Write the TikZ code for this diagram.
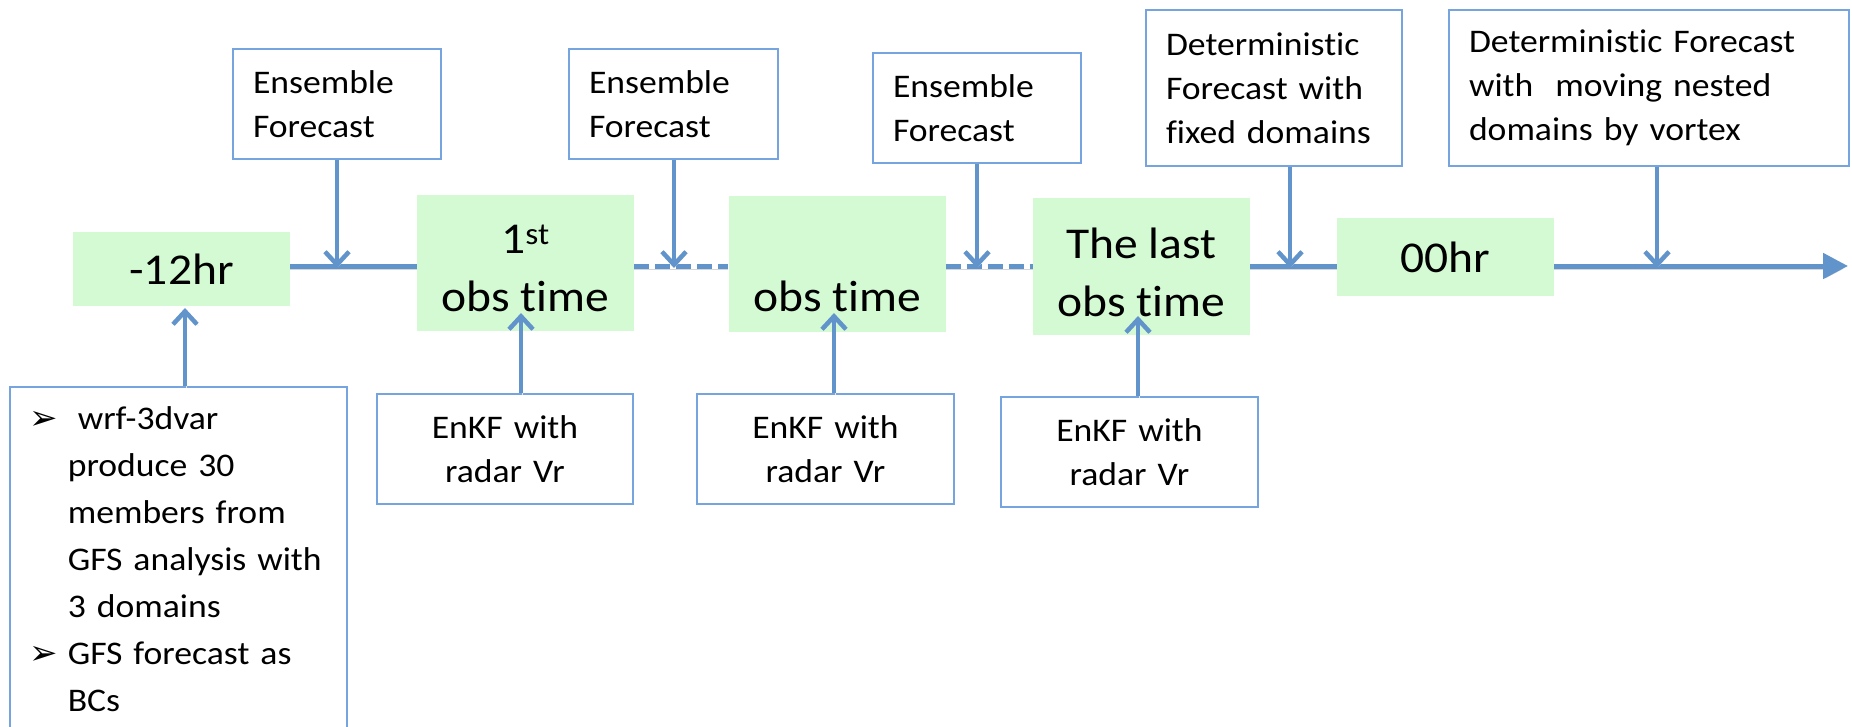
\documentclass[tikz,border=0pt]{standalone}
\usepackage{fontspec}
\setmainfont{Carlito}[Ligatures=NoCommon, FakeStretch=1.08]
\newfontfamily\dingfont{DejaVu Sans}
\usetikzlibrary{arrows.meta}
\definecolor{lineblue}{RGB}{98,148,204}
\definecolor{boxblue}{RGB}{118,164,222}
\definecolor{stepgreen}{RGB}{212,250,212}
\def\bul{\leavevmode\llap{{\dingfont\bfseries\fontsize{34}{34}\selectfont ➢}\hspace{10pt}}}
\tikzset{
  timebox/.style={fill=stepgreen, minimum width=217pt, align=center,
    font=\fontsize{44}{58}\selectfont},
  notebox/.style={draw=boxblue, line width=1.6pt, inner xsep=20pt, inner ysep=4pt,
    font=\fontsize{33}{44}\selectfont},
  axisline/.style={draw=lineblue, line width=5pt,
    preaction={draw=black!16, transform canvas={yshift=-3pt}}},
  feedline/.style={draw=lineblue, line width=4.5pt, -{Straight Barb[length=13pt,width=24pt]},
    preaction={draw=black!10, transform canvas={xshift=1.5pt,yshift=-1.5pt}}},
}
\begin{document}
\begin{tikzpicture}[x=1pt, y=-1pt]
  \clip (0,0) rectangle (1852,726);

  %% time steps
  \node[timebox, minimum height=74pt] (m12) at (181.5,269) {-12hr};
  \node[timebox, minimum height=136pt] (obsA) at (525.5,263) {\rule{0pt}{40pt}1\textsuperscript{st}\\obs time};
  \node[timebox, minimum height=136pt] (obsB) at (837,264) {\rule{0pt}{38pt}\\obs time};
  \node[timebox, minimum height=137pt] (obsC) at (1141.5,266.5) {\rule{0pt}{42pt}The last\\obs time};
  \node[timebox, minimum height=78pt] (hr00) at (1445.5,257) {00hr};

  %% forecasts on top
  \node[notebox, text width=168pt, minimum height=110pt, align=left] (efA) at (337,104) {Ensemble\\Forecast};
  \node[notebox, text width=169pt, minimum height=110pt, align=left] (efB) at (673.5,104) {Ensemble\\Forecast};
  \node[notebox, text width=168pt, minimum height=110pt, align=left] (efC) at (977,108) {Ensemble\\Forecast};
  \node[notebox, text width=216pt, minimum height=156pt, align=left] (dfA) at (1274,88) {Deterministic\\Forecast with\\fixed domains};
  \node[notebox, text width=360pt, minimum height=156pt, align=left] (dfB) at (1649,88) {Deterministic Forecast\\with~ moving nested\\domains by vortex};

  %% analyses below
  \node[notebox, anchor=north west, inner xsep=9pt, inner ysep=20pt, text width=319pt, align=left,
    font=\fontsize{33}{47}\selectfont] (gen) at (9,386)
    {\leftskip=49pt \bul\hspace{10pt}wrf-3dvar\\produce 30\\members from\\GFS analysis with\\3 domains\\
     \bul GFS forecast as\\BCs\\\rule{0pt}{40pt}};
  \node[notebox, text width=216pt, minimum height=110pt, align=center] (enkfA) at (505,449) {EnKF with\\radar Vr};
  \node[notebox, text width=217pt, minimum height=110pt, align=center] (enkfB) at (825.5,449) {EnKF with\\radar Vr};
  \node[notebox, text width=217pt, minimum height=110pt, align=center] (enkfC) at (1129.5,452) {EnKF with\\radar Vr};

  %% time axis
  \coordinate (tl) at (0,266);
  \coordinate (tend) at (1848,266);
  \draw[axisline] (m12.east |- tl) -- (obsA.west |- tl);
  \draw[axisline, dash pattern=on 15pt off 6pt] (obsA.east |- tl) -- (obsB.west |- tl);
  \draw[axisline, dash pattern=on 15pt off 6pt] (obsB.east |- tl) -- (obsC.west |- tl);
  \draw[axisline] (obsC.east |- tl) -- (hr00.west |- tl);
  \draw[axisline, -{Triangle[length=25pt,width=25pt]}] (hr00.east |- tl) -- (tend);

  %% forecast arrows
  \coordinate (fA) at (337,268);
  \coordinate (fB) at (674,268);
  \coordinate (fC) at (977,268);
  \coordinate (fD) at (1290,268);
  \coordinate (fE) at (1657,268);
  \draw[feedline] (efA.south -| fA) -- (fA);
  \draw[feedline] (efB.south -| fB) -- (fB);
  \draw[feedline] (efC.south -| fC) -- (fC);
  \draw[feedline] (dfA.south -| fD) -- (fD);
  \draw[feedline] (dfB.south -| fE) -- (fE);

  %% analysis arrows
  \coordinate (aA) at (185,308);
  \coordinate (aB) at (521,313);
  \coordinate (aC) at (834,313);
  \coordinate (aD) at (1138,316);
  \draw[feedline] (gen.north -| aA) -- (aA);
  \draw[feedline] (enkfA.north -| aB) -- (aB);
  \draw[feedline] (enkfB.north -| aC) -- (aC);
  \draw[feedline] (enkfC.north -| aD) -- (aD);
\end{tikzpicture}
\end{document}
